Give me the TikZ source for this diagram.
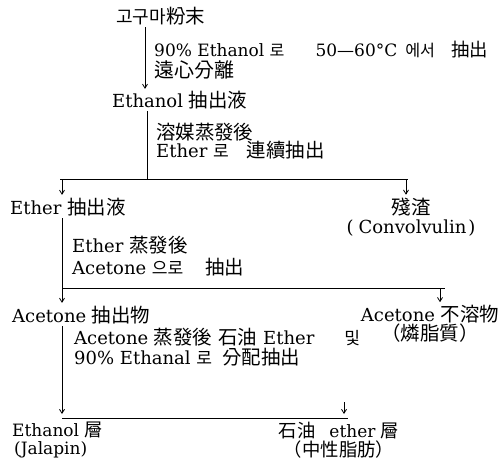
\documentclass[tikz,border=0pt]{standalone}
\usepackage{fontspec}
\setmainfont{DejaVu Serif}
\newfontfamily\hzf{Noto Sans CJK KR}[Scale=1.08]
\newfontfamily\hgf{Noto Sans CJK KR}[Scale=0.95]
\usetikzlibrary{arrows.meta}
\newcommand\HZ[1]{{\hzf #1}}
\newcommand\HG[1]{{\hgf #1}}
\lineskiplimit=-30pt
\lineskip=0pt
\tikzset{
  txt/.style={inner sep=0pt, align=left, font=\fontsize{18}{#1}\selectfont},
  txt/.default=19,
  ln/.style={line width=0.8pt},
  arr/.style={ln,-{Straight Barb[length=4pt,width=5pt]}}}
\begin{document}
\begin{tikzpicture}[x=1pt,y=-1pt]
\useasboundingbox (0,0) rectangle (501,466);
% texts
\node[txt, anchor=west] (top) at (116,16) {{\hgf\fontsize{19}{19}\selectfont 고구마}\HZ{粉末}};
\node[txt, anchor=west] (e1) at (112,100) {Ethanol \HZ{抽出液}};
\node[txt, anchor=west, font=\fontsize{17}{21}\selectfont] (l1) at (154,60) {90\% Ethanol \HG{로}\hspace{31pt}50—60°C\hspace{8pt}\HG{에서}\hspace{16pt}\HZ{抽出}\\{\hzf\fontsize{18.5}{19}\selectfont 遠心分離}};
\node[txt=18, anchor=west] (l2) at (156,141) {\HZ{溶媒蒸發後}\\Ether \HG{로}\hspace{18pt}\HZ{連續抽出}};
\node[txt, anchor=west] (ether) at (10,207) {Ether \HZ{抽出液}};
\node[txt, align=center] (resid) at (411,217) {\HZ{殘渣}\\(\kern5pt Convolvulin\kern2pt)};
\node[txt=22, anchor=west] (l3) at (72,256) {Ether \HZ{蒸發後}\\Acetone \HG{으로}\hspace{22pt}\HZ{抽出}};
\node[txt, anchor=west] (acet) at (12,315) {Acetone \HZ{抽出物}};
\node[txt=19, align=center] (insol) at (430,324) {Acetone \HZ{不溶物}\\\HZ{（燐脂質）}};
\node[txt=19.6, anchor=west] (l4) at (74,347) {Acetone \HZ{蒸發後}\hspace{6pt}\HZ{石油}\hspace{6pt}Ether\hspace{30pt}\HG{및}\\90\% Ethanal \HG{로}\hspace{10pt}\HZ{分配抽出}};
\node[txt, anchor=west, font=\fontsize{17}{18}\selectfont] (etl) at (12,440) {Ethanol \HZ{層}\\\hspace{2pt}(Jalapin)};
\node[txt, align=center, font=\fontsize{17}{19}\selectfont] (pet) at (339,440) {\HZ{石油}\hspace{14pt}ether \HZ{層}\\\HZ{（中性脂肪）}};
% connectors
\coordinate (v1) at (145,0);
\draw[arr, shorten <=2pt, shorten >=2pt] (top.south -| v1) -- (e1.north -| v1);
\coordinate (s1) at (147,179);
\draw[ln, shorten <=2pt] (e1.south -| s1) -- (s1);
\coordinate (h1a) at (60,179);
\coordinate (h1b) at (408,179);
\draw[ln] (h1a) -- (h1b);
\coordinate (d1) at (62,179);
\coordinate (d2) at (406,179);
\draw[arr, shorten >=3pt] (d1) -- (ether.north -| d1);
\draw[arr, shorten >=3pt] (d2) -- (resid.north -| d2);
\coordinate (s2) at (62,288);
\draw[ln, shorten <=2pt] (ether.south -| s2) -- (s2);
\coordinate (h2b) at (445,288);
\draw[ln] (s2) -- (h2b);
\coordinate (d3) at (440,288);
\draw[arr, shorten >=3pt] (s2) -- (acet.north -| s2);
\draw[arr, shorten >=3pt] (d3) -- (insol.north -| d3);
\coordinate (s3) at (62,418);
\coordinate (h3b) at (348,418);
\draw[ln] (s3) -- (h3b);
\draw[arr, shorten <=2pt, shorten >=4pt] (acet.south -| s3) -- (s3);
\coordinate (r3) at (344,402);
\draw[arr, shorten >=4pt] (r3) -- (r3 |- s3);
\end{tikzpicture}
\end{document}
